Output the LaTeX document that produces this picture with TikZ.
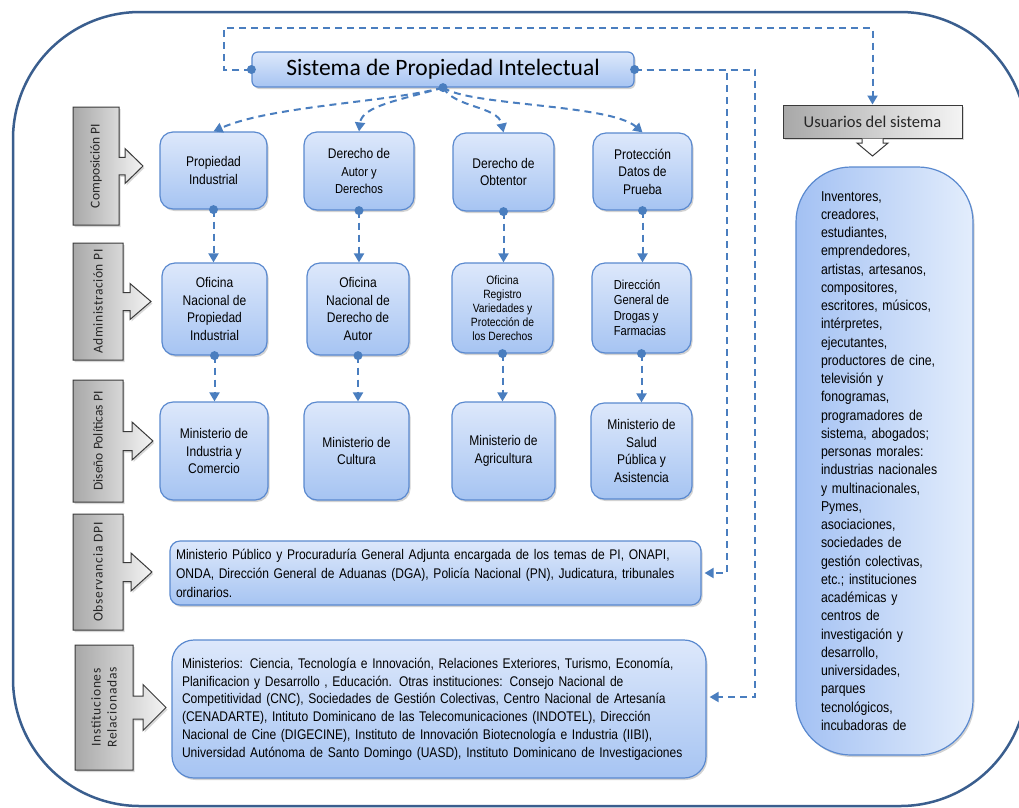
\documentclass[tikz,border=0pt]{standalone}
\usepackage{fontspec}
\setmainfont{Liberation Sans}
\newfontfamily\narrowf[FakeStretch=0.86]{Liberation Sans}
\newfontfamily\calib{Carlito}
\usetikzlibrary{arrows.meta,shadows}

\definecolor{conncol}{HTML}{4A7EBF}
\definecolor{bborder}{HTML}{5A89CF}
\definecolor{btop}{HTML}{DDE8FB}
\definecolor{bbot}{HTML}{A6C4F2}
\definecolor{framec}{HTML}{3A5E8E}
\definecolor{gborder}{HTML}{3A3A3A}
\definecolor{gleft}{HTML}{A8A8A8}
\definecolor{gright}{HTML}{F4F4F4}
\definecolor{uleft}{HTML}{A3C1F3}
\definecolor{uright}{HTML}{E3EDFC}
\definecolor{labtext}{HTML}{262626}

\tikzset{
 boxbase/.style={draw=bborder, line width=1.2pt,
   drop shadow={shadow xshift=1.5pt,shadow yshift=-2pt,opacity=0.35},
   text=black, inner sep=2pt},
 bluebox/.style={boxbase, rounded corners=13pt, top color=btop, bottom color=bbot,
   font=\narrowf\fontsize{14}{17.5}\selectfont, align=center},
 graybox/.style={draw=gborder, line width=1pt, left color=gleft, right color=gright,
   text=labtext, drop shadow={shadow xshift=1.5pt,shadow yshift=-2pt,opacity=0.3}},
 connline/.style={draw=conncol, line width=2pt, dash pattern=on 7pt off 5pt},
 arr/.style={-{Triangle[length=9pt,width=10pt]}},
 dot/.style={circle, fill=conncol, inner sep=0pt, minimum size=9pt},
 labfont/.style={font=\calib\fontsize{13.5}{16}\selectfont, text=labtext}
}

\newcommand\sidelab[9]{%
 \pgfmathsetmacro\slcy{(#3+#5)/2}%
 \pgfmathsetmacro\slsh{#9/2}%
 \shade[graybox]
  (#2,#3) -- (#4,#3) -- (#4,\slcy-\slsh) -- (#6,\slcy-\slsh) -- (#6,\slcy-#9) -- (#7,\slcy)
  -- (#6,\slcy+#9) -- (#6,\slcy+\slsh) -- (#4,\slcy+\slsh) -- (#4,#5) -- (#2,#5) -- cycle;
 \node[labfont, rotate=90, align=center, inner sep=0pt] (#1) at ({(#2+#4)/2},\slcy) {#8};
}

\begin{document}
\begin{tikzpicture}[x=1pt,y=-1pt]
\useasboundingbox (0,0) rectangle (1019,807);
\fill[white] (0,0) rectangle (1019,807);
\draw[framec, line width=2.5pt, rounded corners=127pt] (13,12) rectangle (1027,806);

% title
\node[bluebox, rounded corners=6pt, minimum width=382pt, minimum height=35pt,
  font=\calib\fontsize{23.5}{27}\selectfont] (title) at (443,69.5) {Sistema de Propiedad Intelectual};

% row 1
\node[bluebox, minimum width=107pt, minimum height=77pt] (pi) at (213.5,170.5) {Propiedad\\Industrial};
\node[bluebox, minimum width=110pt, minimum height=78pt] (da) at (359,171)
  {Derecho de\\{\fontsize{13}{15}\selectfont Autor y}\\{\fontsize{13}{15}\selectfont Derechos}};
\node[bluebox, minimum width=101pt, minimum height=78pt] (ob) at (503.5,172) {Derecho de\\Obtentor};
\node[bluebox, minimum width=99pt, minimum height=77pt] (pd) at (642.5,171.5) {Protección\\Datos de\\Prueba};

% row 2
\node[bluebox, minimum width=105pt, minimum height=92pt] (on) at (214.5,309) {Oficina\\Nacional de\\Propiedad\\Industrial};
\node[bluebox, minimum width=102pt, minimum height=92pt] (oa) at (358,309) {Oficina\\Nacional de\\Derecho de\\Autor};
\node[bluebox, minimum width=101pt, minimum height=90pt,
  font=\narrowf\fontsize{12}{14}\selectfont] (orv) at (502.5,308) {Oficina\\Registro\\Variedades y\\Protección de\\los Derechos};
\node[bluebox, minimum width=99pt, minimum height=90pt, align=left,
  font=\narrowf\fontsize{13}{15.5}\selectfont] (dg) at (641.5,308) {Dirección\\General de\\Drogas y\\Farmacias};

% row 3
\node[bluebox, minimum width=108pt, minimum height=98pt] (mi) at (214,451) {Ministerio de\\Industria y\\Comercio};
\node[bluebox, minimum width=105pt, minimum height=98pt] (mc) at (356.5,451) {Ministerio de\\Cultura};
\node[bluebox, minimum width=103pt, minimum height=98pt] (ma) at (503.5,451) {Ministerio de\\Agricultura};
\node[bluebox, minimum width=101pt, minimum height=96pt] (ms) at (641.5,451) {Ministerio de\\Salud\\Pública y\\Asistencia};

% observancia box
\node[bluebox, rounded corners=10pt, minimum width=531pt, minimum height=64pt, align=left,
  inner xsep=6pt, text width=519pt, font=\narrowf\fontsize{14}{19}\selectfont] (obs) at (435.5,573)
  {Ministerio Público y Procuraduría General Adjunta encargada de los temas de PI, ONAPI,\\
   ONDA, Dirección General de Aduanas (DGA), Policía Nacional (PN), Judicatura, tribunales\\
   ordinarios.};

% instituciones box
\node[bluebox, rounded corners=22pt, minimum width=534pt, minimum height=138pt, align=left,
  inner xsep=10pt, text width=514pt, font=\narrowf\fontsize{14}{17.8}\selectfont] (inst) at (439,709)
  {Ministerios: Ciencia, Tecnología e Innovación, Relaciones Exteriores, Turismo, Economía,\\
   Planificacion y Desarrollo , Educación. Otras instituciones: Consejo Nacional de\\
   Competitividad (CNC), Sociedades de Gestión Colectivas, Centro Nacional de Artesanía\\
   (CENADARTE), Intituto Dominicano de las Telecomunicaciones (INDOTEL), Dirección\\
   Nacional de Cine (DIGECINE), Instituto de Innovación Biotecnología e Industria (IIBI),\\
   Universidad Autónoma de Santo Domingo (UASD), Instituto Dominicano de Investigaciones};

% users header and box
\node[graybox, minimum width=179pt, minimum height=33pt, font=\calib\fontsize{16.5}{19}\selectfont]
  (uh) at (872.5,121.5) {Usuarios del sistema};
\draw[gborder, fill=white, line width=1pt] (862,138.5) -- (862,143) -- (857,143) -- (872.5,156)
  -- (888,143) -- (883,143) -- (883,138.5);
\node[boxbase, rounded corners=55pt, left color=uleft, right color=uright,
  minimum width=177pt, minimum height=588pt, inner xsep=25pt, text width=127pt, align=left,
  font=\narrowf\fontsize{14.3}{18.25}\selectfont] (users) at (884.5,461)
  {Inventores,\\ creadores,\\ estudiantes,\\ emprendedores,\\ artistas, artesanos,\\ compositores,\\
   escritores, músicos,\\ intérpretes,\\ ejecutantes,\\ productores de cine,\\ televisión y\\
   fonogramas,\\ programadores de\\ sistema, abogados;\\ personas morales:\\ industrias nacionales\\
   y multinacionales,\\ Pymes,\\ asociaciones,\\ sociedades de\\ gestión colectivas,\\
   etc.; instituciones\\ académicas y\\ centros de\\ investigación y\\ desarrollo,\\
   universidades,\\ parques\\ tecnológicos,\\ incubadoras de};

% side labels
\sidelab{lcomp}{73}{107}{119}{225}{125}{143}{Composición PI}{17.5}
\sidelab{ladm}{73}{243}{123}{360}{130}{151}{\addfontfeature{LetterSpace=4}Administración PI}{18}
\sidelab{ldis}{73}{380}{123}{502}{132}{153}{Diseño Políticas PI}{19}
\sidelab{lobs}{73}{514}{123}{630}{131}{152}{\addfontfeature{LetterSpace=6}Observancia DPI}{19}
\sidelab{linst}{75}{645}{133}{770}{143}{166}{\addfontfeature{LetterSpace=6}Instituciones\\\addfontfeature{LetterSpace=6}Relacionadas}{23}

% connectors from title
\draw[connline,arr] (title.south) .. controls (390,102) and (270,106) .. (pi.north);
\draw[connline,arr] (title.south) .. controls (400,100) and (362,106) .. (da.north);
\draw[connline,arr] (title.south) .. controls (455,108) and (498,106) .. (ob.north);
\draw[connline,arr] (title.south) .. controls (470,106) and (610,104) .. (pd.north);

\foreach \a/\b in {pi/on, da/oa, ob/orv, pd/dg, on/mi, oa/mc, orv/ma, dg/ms} {
  \draw[connline,arr] (\a.south) -- (\a.south |- \b.north);
}

\coordinate (r1) at (727,69.5);
\coordinate (r2) at (755,69.5);
\coordinate (l1) at (224,28);
\draw[connline,arr] (title.east) -- (r1) |- ([xshift=3pt]obs.east);
\draw[connline,arr] (title.east) -- (r2) |- ([xshift=3pt,yshift=12pt]inst.east);
\draw[connline,arr] (title.west) -| (l1) -| (uh.north);

% dots
\node[dot] (dtb) at (title.south) {};
\node[dot] (dte) at (title.east) {};
\node[dot] (dtw) at (title.west) {};
\foreach \a in {pi, da, ob, pd, on, oa, orv, dg} {
  \node[dot] (dot-\a) at (\a.south) {};
}
\end{tikzpicture}
\end{document}
